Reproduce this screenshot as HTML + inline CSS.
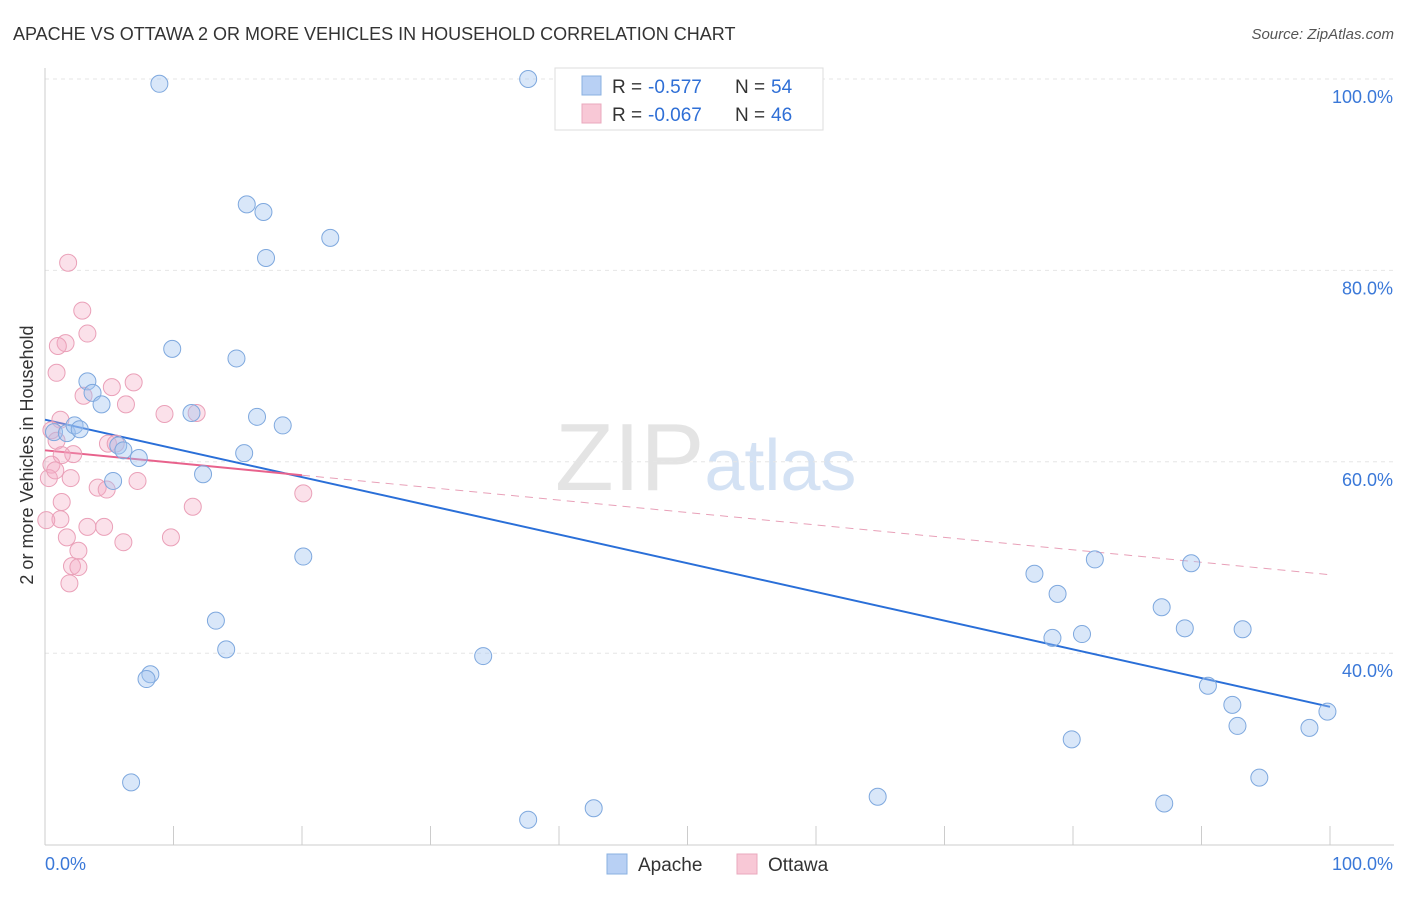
<!DOCTYPE html>
<html><head><meta charset="utf-8"><style>
body{margin:0;background:#fff;font-family:"Liberation Sans",sans-serif}
svg text{font-family:"Liberation Sans",sans-serif}
</style></head><body>
<svg id="chart" width="1406" height="892" xmlns="http://www.w3.org/2000/svg">
<text x="13" y="40" font-size="18" fill="#333">APACHE VS OTTAWA 2 OR MORE VEHICLES IN HOUSEHOLD CORRELATION CHART</text>
<text x="1394" y="39" font-size="15" fill="#555" font-style="italic" text-anchor="end">Source: ZipAtlas.com</text>
<text x="555" y="490" font-size="96" fill="#e4e4e4" font-family="Liberation Serif">ZIP<tspan fill="#d4e2f4" font-family="Liberation Sans" font-size="72">atlas</tspan></text>
<text transform="translate(33,455) rotate(-90)" font-size="18" fill="#333" text-anchor="middle">2 or more Vehicles in Household</text>
<g id="grid"></g><g id="axes"></g><g id="trends"></g><g id="points"></g>
<g>
<rect x="555" y="68" width="268" height="62" fill="#fff" stroke="#ddd"/>
<rect x="582" y="76" width="19" height="19" fill="#b8d0f4" stroke="#8ab0e0"/>
<rect x="582" y="104" width="19" height="19" fill="#f8c8d6" stroke="#eaa8bd"/>
<text x="612" y="93" font-size="19" fill="#333">R =</text>
<text x="648" y="93" font-size="19" fill="#2f6fd6">-0.577</text>
<text x="735" y="93" font-size="19" fill="#333">N =</text>
<text x="771" y="93" font-size="19" fill="#2f6fd6">54</text>
<text x="612" y="121" font-size="19" fill="#333">R =</text>
<text x="648" y="121" font-size="19" fill="#2f6fd6">-0.067</text>
<text x="735" y="121" font-size="19" fill="#333">N =</text>
<text x="771" y="121" font-size="19" fill="#2f6fd6">46</text>
</g>
<g>
<rect x="607" y="854" width="20" height="20" fill="#b8d0f4" stroke="#8ab0e0"/>
<text x="638" y="871" font-size="19" fill="#333">Apache</text>
<rect x="737" y="854" width="20" height="20" fill="#f8c8d6" stroke="#eaa8bd"/>
<text x="768" y="871" font-size="19" fill="#333">Ottawa</text>
</g>
</svg>
<script>
const apacheX=[8.9,37.6,15.7,17.0,17.2,22.2,9.9,14.9,3.3,3.7,4.4,11.4,16.5,18.5,0.7,1.7,2.3,2.7,5.7,6.1,7.3,15.5,12.3,5.3,20.1,13.3,14.1,8.2,7.9,34.1,6.7,37.6,42.7,64.8,77.0,81.7,78.8,89.2,86.9,78.4,80.7,88.7,93.2,90.5,92.4,92.8,99.8,98.4,79.9,94.5,87.1];
const apacheY=[99.5,100,86.9,86.1,81.3,83.4,71.8,70.8,68.4,67.2,66.0,65.1,64.7,63.8,63.1,63.0,63.8,63.4,61.7,61.2,60.4,60.9,58.7,58.0,50.1,43.4,40.4,37.8,37.3,39.7,26.5,22.6,23.8,25.0,48.3,49.8,46.2,49.4,44.8,41.6,42.0,42.6,42.5,36.6,34.6,32.4,33.9,32.2,31.0,27.0,24.3];
const ottawaX=[1.8,2.9,3.3,1.6,1.0,0.9,6.9,5.2,3.0,6.3,9.3,11.8,1.2,0.5,0.9,4.9,5.5,2.2,1.3,0.5,0.3,2.0,7.2,4.1,4.8,20.1,1.3,11.5,1.2,3.3,4.6,9.8,1.7,6.1,2.6,2.1,2.6,1.9,0.1,0.8];
const ottawaY=[80.8,75.8,73.4,72.4,72.1,69.3,68.3,67.8,66.9,66.0,65.0,65.1,64.4,63.3,62.2,61.9,61.9,60.8,60.7,59.7,58.3,58.3,58.0,57.3,57.1,56.7,55.8,55.3,54.0,53.2,53.2,52.1,52.1,51.6,50.7,49.1,49.0,47.3,53.9,59.1];
const yTicks=[100,80,60,40];
const yTickLabels=["100.0%","80.0%","60.0%","40.0%"];
const apacheTrend=[64.4,34.4];
const ottawaTrend=[61.2,48.2];
const ottawaSolidEnd=20;
const NS="http://www.w3.org/2000/svg";
const sx=v=>45+v*12.85, sy=v=>1036-v*9.57;
function mk(t,a,p){const e=document.createElementNS(NS,t);for(const k in a)e.setAttribute(k,a[k]);document.getElementById(p).appendChild(e);return e;}
yTicks.forEach((t,i)=>{
 const g=mk('line',{x1:45,x2:1394,y1:sy(t),y2:sy(t),stroke:'#e6e6e6','stroke-dasharray':'4,4'},'grid');
 
 
 const l=mk('text',{x:1393,y:sy(t)+24,'font-size':18,fill:'#3a78d8','text-anchor':'end'},'axes');
 l.textContent=yTickLabels[i];
 
 
});
let a=mk('line',{x1:45,x2:1394,y1:845,y2:845,stroke:'#ccc'},'axes');


a=mk('line',{x1:45,x2:45,y1:68,y2:845,stroke:'#ccc'},'axes');


for(let i=0;i<=10;i++){const t=mk('line',{x1:sx(i*10),x2:sx(i*10),y1:826,y2:845,stroke:'#ccc'},'axes');
 
 }
let xl=mk('text',{x:45,y:870,'font-size':18,fill:'#3a78d8'},'axes');xl.textContent='0.0%';


xl=mk('text',{x:1393,y:870,'font-size':18,fill:'#3a78d8','text-anchor':'end'},'axes');xl.textContent='100.0%';


ottawaX.forEach((x,i)=>{const c=mk('circle',{cx:sx(x),cy:sy(ottawaY[i]),r:8.5,fill:'rgba(244,170,195,0.35)',stroke:'#eaa0b8','stroke-width':1},'points');
 
 });
apacheX.forEach((x,i)=>{const c=mk('circle',{cx:sx(x),cy:sy(apacheY[i]),r:8.5,fill:'rgba(160,195,240,0.4)',stroke:'#7ea8de','stroke-width':1},'points');
 
 });
const oy=x=>ottawaTrend[0]+(ottawaTrend[1]-ottawaTrend[0])*x/100;
let t=mk('line',{x1:sx(0),y1:sy(apacheTrend[0]),x2:sx(100),y2:sy(apacheTrend[1]),stroke:'#2a6fd8','stroke-width':2},'trends');


t=mk('line',{x1:sx(0),y1:sy(oy(0)),x2:sx(ottawaSolidEnd),y2:sy(oy(ottawaSolidEnd)),stroke:'#e8628c','stroke-width':2},'trends');


t=mk('line',{x1:sx(ottawaSolidEnd),y1:sy(oy(ottawaSolidEnd)),x2:sx(100),y2:sy(oy(100)),stroke:'#e8a0b8','stroke-width':1,'stroke-dasharray':'8,6'},'trends');


</script>
</body></html>
